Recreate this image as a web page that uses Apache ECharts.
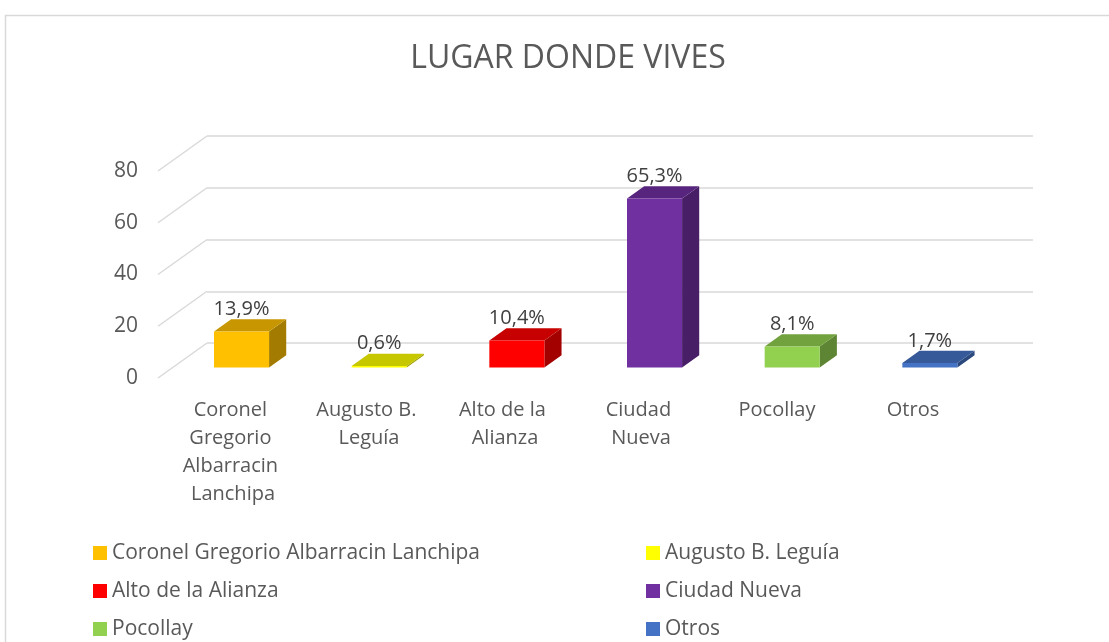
<!DOCTYPE html>
<html>
<head>
<meta charset="utf-8">
<title>LUGAR DONDE VIVES</title>
<script src="https://cdn.jsdelivr.net/npm/echarts@6/dist/echarts.min.js"></script>
<style>
  html, body { margin: 0; padding: 0; background: #fff; }
  #chart { width: 1109px; height: 642px; }
</style>
</head>
<body>
<div id="chart"></div>
<script>
const categories = [
  'Coronel Gregorio Albarracin Lanchipa',
  'Augusto B. Leguía',
  'Alto de la Alianza',
  'Ciudad Nueva',
  'Pocollay',
  'Otros',
];
const percents = [13.9, 0.6, 10.4, 65.3, 8.1, 1.7];
const percentLabels = ['13,9%', '0,6%', '10,4%', '65,3%', '8,1%', '1,7%'];
const yTicks = [0, 20, 40, 60, 80];
const colors = ['#FFC000', '#FFFF00', '#FF0000', '#7030A0', '#92D050', '#4472C4'];

// 3d depth: back wall -> front edge (px)
const DX = 49, DY = 35;
const FRONT = 0.7, BACK = 0.35;
const FONT = '"Open Sans", sans-serif';
const TEXT = '#595959';
const LINE = '#d9d9d9';

const chart = echarts.init(document.getElementById('chart'));

// shade a hex colour (k < 1 darker)
function shade(hex, k) {
  const n = parseInt(hex.slice(1), 16);
  const r = Math.round(((n >> 16) & 255) * k);
  const g = Math.round(((n >> 8) & 255) * k);
  const b = Math.round((n & 255) * k);
  return 'rgb(' + r + ',' + g + ',' + b + ')';
}

// diagonal lines on the left wall
function renderWall(params, api) {
  const p = api.coord([0, api.value(1)]);
  const x0 = params.coordSys.x;
  return {
    type: 'line',
    shape: { x1: x0, y1: p[1], x2: x0 - DX, y2: p[1] + DY },
    style: { stroke: LINE, lineWidth: 1.5 },
  };
}

function makeBox(color, label) {
  return function (params, api) {
    const cat = api.value(0);
    const top = api.coord([cat, api.value(1)]);
    const base = api.coord([cat, 0]);
    const w = api.size([1, 0])[0] * 0.4;
    const l = top[0] - w / 2, r = top[0] + w / 2;
    const fx = -DX * FRONT, fy = DY * FRONT;
    const bx = -DX * BACK, by = DY * BACK;
    return {
      type: 'group',
      children: [
        {
          type: 'polygon',
          shape: { points: [[r + fx, top[1] + fy], [r + bx, top[1] + by], [r + bx, base[1] + by], [r + fx, base[1] + fy]] },
          style: { fill: shade(color, 0.64) },
        },
        {
          type: 'polygon',
          shape: { points: [[l + fx, top[1] + fy], [r + fx, top[1] + fy], [r + bx, top[1] + by], [l + bx, top[1] + by]] },
          style: { fill: shade(color, 0.78) },
        },
        {
          type: 'rect',
          shape: { x: l + fx, y: top[1] + fy, width: w, height: base[1] - top[1] },
          style: { fill: color },
        },
        {
          type: 'text',
          x: top[0] + fx,
          y: top[1] + by,
          style: {
            text: label,
            fill: '#404040',
            fontSize: 20,
            fontFamily: FONT,
            align: 'center',
            verticalAlign: 'bottom',
          },
        },
      ],
    };
  };
}

const legendText = { color: TEXT, fontSize: 21, fontFamily: FONT, lineHeight: 22 };

chart.setOption({
  animation: false,
  title: {
    text: 'LUGAR DONDE VIVES',
    left: 563,
    textAlign: 'center',
    top: 38,
    textStyle: { color: TEXT, fontSize: 32, fontWeight: 'normal', fontFamily: FONT },
  },
  graphic: [
    {
      type: 'rect',
      left: 3,
      top: 13,
      shape: { width: 1200, height: 700 },
      style: { fill: 'none', stroke: LINE, lineWidth: 1.5 },
    },
  ],
  legend: [
    {
      left: 93, top: 542, orient: 'vertical', icon: 'rect', selectedMode: false, padding: 0,
      itemWidth: 14, itemHeight: 14, itemGap: 16, textStyle: legendText,
      data: [categories[0], categories[2], categories[4]],
    },
    {
      left: 646, top: 542, orient: 'vertical', icon: 'rect', selectedMode: false, padding: 0,
      itemWidth: 14, itemHeight: 14, itemGap: 16, textStyle: legendText,
      data: [categories[1], categories[3], categories[5]],
    },
  ],
  grid: [
    // back wall
    { left: 207, right: 76, top: 136, bottom: 299 },
    // front edge (labels)
    { left: 165, right: 128, top: 171, bottom: 264 },
  ],
  xAxis: [
    {
      gridIndex: 0, type: 'category', data: categories,
      axisLine: { show: false }, axisTick: { show: false }, axisLabel: { show: false },
    },
    {
      gridIndex: 1, type: 'category', data: categories,
      axisLine: { show: false }, axisTick: { show: false },
      axisLabel: {
        interval: 0, color: TEXT, fontSize: 20, fontFamily: FONT, lineHeight: 28,
        width: 125, overflow: 'break', margin: 18,
      },
    },
  ],
  yAxis: [
    {
      gridIndex: 0, type: 'value', min: 0, max: 80, interval: 20,
      axisLabel: { show: false },
      splitLine: { lineStyle: { color: LINE, width: 1.5 } },
    },
    {
      gridIndex: 1, type: 'value', min: 0, max: 80, interval: 20,
      axisLine: { show: false }, axisTick: { show: false }, splitLine: { show: false },
      axisLabel: { color: TEXT, fontSize: 21, fontFamily: FONT, margin: 27 },
    },
  ],
  series: [
    {
      type: 'custom',
      name: 'wall',
      xAxisIndex: 0,
      yAxisIndex: 0,
      silent: true,
      renderItem: renderWall,
      data: yTicks.map((v) => [0, v]),
      z: 1,
    },
  ].concat(
    categories.map((name, i) => ({
      type: 'custom',
      name: name,
      xAxisIndex: 0,
      yAxisIndex: 0,
      itemStyle: { color: colors[i] },
      renderItem: makeBox(colors[i], percentLabels[i]),
      data: [[i, percents[i]]],
      z: 3,
    }))
  ),
});
</script>
</body>
</html>
